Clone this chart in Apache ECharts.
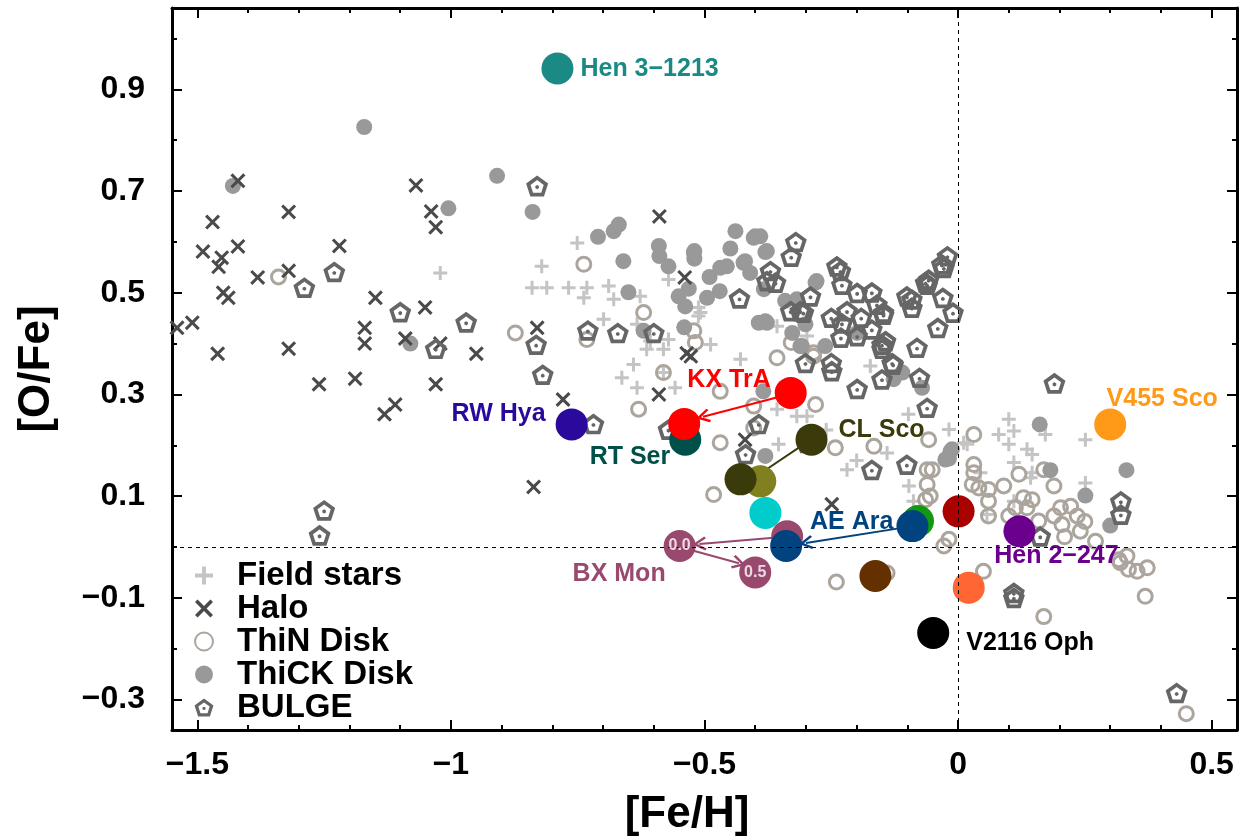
<!DOCTYPE html>
<html>
<head>
<meta charset="utf-8">
<script src="https://cdn.jsdelivr.net/npm/echarts@6/dist/echarts.min.js"></script>
<style>
html,body{margin:0;padding:0;background:#fff;}
#chart{width:1251px;height:837px;}
</style>
</head>
<body>
<div id="chart"></div>
<script>
// ---------------- DATA ----------------
const xMajorTicks = [-1.5, -1, -0.5, 0, 0.5];
const yMajorTicks = [-0.3, -0.1, 0.1, 0.3, 0.5, 0.7, 0.9];
const xMinorTicks = [-1.5,-1.4,-1.3,-1.2,-1.1,-1.0,-0.9,-0.8,-0.7,-0.6,-0.5,-0.4,-0.3,-0.2,-0.1,0,0.1,0.2,0.3,0.4,0.5];
const yMinorTicks = [-0.3,-0.2,-0.1,0,0.1,0.2,0.3,0.4,0.5,0.6,0.7,0.8,0.9,1.0];

const fieldStars = [
[-1.021,0.539],[-0.821,0.552],[-0.840,0.510],[-0.811,0.510],[-0.768,0.510],[-0.732,0.510],[-0.689,0.513],
[-0.738,0.490],[-0.679,0.487],[-0.699,0.448],[-0.633,0.438],[-0.607,0.405],[-0.571,0.408],[-0.614,0.389],
[-0.581,0.389],[-0.640,0.359],[-0.663,0.333],[-0.633,0.313],[-0.581,0.343],[-0.558,0.313],[-0.512,0.471],
[-0.512,0.454],[-0.488,0.398],[-0.429,0.369],[-0.357,0.434],[-0.357,0.271],[-0.318,0.257],[-0.298,0.257],
[-0.354,0.202],[-0.219,0.152],[-0.173,0.356],[-0.298,0.415],[-0.751,0.598],[-0.627,0.493],[-0.571,0.526],
[-0.508,0.461],[-0.098,0.261],[-0.018,0.231],[-0.140,0.185],[0.100,0.251],[0.080,0.221],[0.110,0.228],
[0.100,0.202],[0.136,0.192],[0.146,0.182],[0.172,0.221],[0.251,0.211],[0.110,0.166],[0.251,0.126],
[-0.097,0.120],[-0.088,0.090],[0.044,0.146],[0.146,0.146],[0.011,0.205],[0.018,0.202],[0.143,0.136],
[0.057,0.064],[0.110,0.090],[-0.26,0.23],[-0.20,0.17]
];

const haloStars = [
[-1.420,0.720],[-1.470,0.639],[-1.320,0.659],[-1.069,0.711],[-1.039,0.660],[-1.030,0.629],[-1.489,0.581],
[-1.420,0.591],[-1.220,0.592],[-1.452,0.569],[-1.458,0.551],[-1.320,0.543],[-1.381,0.530],[-1.449,0.500],
[-1.439,0.490],[-1.149,0.490],[-1.051,0.471],[-1.540,0.431],[-1.510,0.441],[-1.170,0.431],[-1.170,0.400],
[-1.090,0.410],[-1.021,0.400],[-1.460,0.380],[-1.320,0.390],[-0.950,0.380],[-1.260,0.320],[-1.189,0.331],
[-1.030,0.320],[-1.110,0.280],[-1.131,0.261],[-0.837,0.118],[-0.830,0.431],[-0.779,0.290],[-0.589,0.650],
[-0.539,0.530],[-0.590,0.300],[-0.535,0.381],[-0.527,0.375],[-0.420,0.211],[-0.249,0.084]
];

const thinDisk = [
[-1.340,0.531],[-0.873,0.421],[-0.738,0.556],[-0.620,0.461],[-0.732,0.408],[-0.630,0.271],[-0.521,0.425],
[-0.518,0.402],[-0.581,0.343],[-0.469,0.205],[-0.482,0.103],[-0.357,0.372],[-0.285,0.375],[-0.281,0.280],
[-0.403,0.277],[-0.403,0.234],[-0.469,0.306],[-0.242,0.195],[-0.166,0.198],[-0.329,0.402],[-0.285,0.382],
[0.031,0.221],[-0.058,0.211],[-0.061,0.152],[-0.051,0.152],[-0.061,0.123],[-0.055,0.100],[-0.064,0.093],
[0.031,0.162],[0.031,0.146],[0.028,0.123],[0.041,0.116],[0.060,0.113],[0.060,0.090],[0.060,0.061],
[0.090,0.120],[0.120,0.143],[0.129,0.097],[0.146,0.093],[0.113,0.077],[0.136,0.077],[0.100,0.061],
[0.169,0.152],[0.189,0.120],[0.159,0.051],[0.202,0.077],[0.222,0.080],[0.189,0.061],[0.205,0.044],
[0.235,0.061],[0.241,0.031],[0.271,0.011],[0.317,-0.025],[0.336,-0.044],[0.353,-0.048],[0.373,-0.041],
[0.369,-0.097],[0.333,-0.018],[0.050,-0.048],[-0.028,0.002],[-0.018,0.015],[0.169,-0.137],[0.450,-0.328],
[0.320,-0.031],[-0.140,-0.051],[-0.240,-0.069],[0.25,0.05],[0.21,0.02]
];

const thickDisk = [
[-1.171,0.826],[-1.430,0.710],[-1.005,0.666],[-0.909,0.730],[-1.080,0.400],[-0.839,0.659],[-0.710,0.610],
[-0.679,0.621],[-0.669,0.634],[-0.660,0.562],[-0.590,0.592],[-0.521,0.579],[-0.439,0.621],[-0.400,0.611],
[-0.449,0.587],[-0.420,0.562],[-0.380,0.580],[-0.589,0.572],[-0.571,0.552],[-0.520,0.582],[-0.520,0.567],
[-0.490,0.531],[-0.470,0.503],[-0.495,0.490],[-0.531,0.508],[-0.551,0.493],[-0.538,0.473],[-0.403,0.608],
[-0.456,0.552],[-0.423,0.559],[-0.410,0.539],[-0.650,0.501],[-0.620,0.425],[-0.540,0.432],[-0.393,0.441],
[-0.380,0.444],[-0.281,0.520],[-0.341,0.484],[-0.327,0.421],[-0.308,0.395],[-0.262,0.395],[-0.469,0.549],
[-0.384,0.306],[-0.380,0.179],[-0.390,0.611],[-0.377,0.582],[-0.383,0.507],[-0.279,0.523],[-0.318,0.487],
[-0.377,0.441],[-0.311,0.395],[-0.301,0.438],[-0.199,0.421],[-0.127,0.330],[-0.110,0.343],[-0.071,0.313],
[0.161,0.241],[0.332,0.151],[-0.012,0.192],[-0.018,0.174],[0.182,0.151],[0.251,0.101],[0.300,0.042],
[-0.015,0.188],[-0.025,0.172]
];

const bulgeStars = [
[-0.830,0.710],[-0.320,0.600],[-0.329,0.571],[-1.230,0.541],[-1.289,0.510],[-1.100,0.462],[-0.970,0.442],
[-1.030,0.390],[-1.250,0.072],[-1.259,0.023],[-0.832,0.398],[-0.819,0.339],[-0.730,0.426],[-0.671,0.421],
[-0.600,0.421],[-0.431,0.489],[-0.719,0.242],[-0.571,0.231],[-0.393,0.242],[-0.419,0.183],[-0.298,0.205],
[-0.291,0.493],[-0.249,0.346],[-0.199,0.311],[-0.170,0.152],[-0.370,0.543],[-0.360,0.520],[-0.377,0.523],
[-0.239,0.552],[-0.232,0.543],[-0.229,0.516],[-0.199,0.500],[-0.170,0.501],[-0.160,0.477],[-0.147,0.457],
[-0.250,0.451],[-0.229,0.440],[-0.219,0.464],[-0.191,0.451],[-0.170,0.428],[-0.231,0.412],[-0.199,0.415],
[-0.150,0.398],[-0.150,0.390],[-0.130,0.362],[-0.081,0.392],[-0.040,0.431],[-0.101,0.493],[-0.091,0.487],
[-0.091,0.471],[-0.064,0.520],[-0.058,0.526],[-0.030,0.490],[-0.010,0.461],[-0.028,0.549],[-0.021,0.572],
[-0.330,0.464],[-0.311,0.464],[-0.305,0.461],[-0.301,0.362],[-0.250,0.362],[-0.061,0.516],[-0.128,0.359],
[-0.150,0.330],[-0.076,0.333],[-0.061,0.274],[-0.101,0.162],[-0.147,0.461],[-0.143,0.405],[0.190,0.322],
[0.321,0.090],[0.321,0.064],[0.162,0.021],[0.110,-0.090],[0.110,-0.100],[0.431,-0.287],[-0.032,0.556]
];

// programme stars (drawn in this order)
const starLabel = ['Hen 3−1213','RW Hya','RT Ser','','KX TrA','','','CL Sco','','','','','AE Ara','BX Mon','','','Hen 2−247','','','V2116 Oph','V455 Sco'];
const starFeH   = [-0.790,-0.762,-0.538,-0.540,-0.330,-0.390,-0.429,-0.289,-0.380,-0.337,-0.339,-0.079,-0.090,-0.549,-0.400,0.001,0.121,0.021,-0.163,-0.049,0.300];
const starOFe   = [0.941,0.241,0.211,0.242,0.303,0.129,0.133,0.211,0.067,0.021,0.002,0.051,0.041,0.002,-0.050,0.070,0.031,-0.080,-0.057,-0.169,0.241];
const phaseText = ['0.0','0.5'];
const phaseIndex = [13, 14];

// arrows: from / to in [Fe/H], [O/Fe]
const arrowFrom = [[-0.335,0.300],[-0.295,0.208],[-0.095,0.040],[-0.340,0.020],[-0.545,-0.001]];
const arrowTo   = [[-0.503,0.256],[-0.392,0.143],[-0.300,0.008],[-0.510,0.006],[-0.432,-0.032]];

// ---------------- STYLES ----------------
const starColor = ['#1b8a85','#2a0a9c','#00504a','#ff0000','#ff0000','#808020','#3a3a0a','#3a3a0a','#00cccc','#99496e','#00437f','#119911','#00437f','#99496e','#99496e','#aa0000','#6b008f','#ff6633','#653000','#000000','#ff9918'];
const starLabelPos = {
  0:{position:'right',distance:7,offset:[0,1]},
  1:{position:'left',distance:10,offset:[0,-10]},
  2:{position:'left',distance:-1,offset:[0,17]},
  4:{position:'left',distance:4,offset:[0,-13]},
  7:{position:'right',distance:11,offset:[0,-10]},
  12:{position:'left',distance:3,offset:[0,-4]},
  13:{position:'left',distance:-2,offset:[0,28]},
  16:{position:'bottom',distance:-4,offset:[37,0]},
  19:{position:'right',distance:17,offset:[0,10]},
  20:{position:'top',distance:-3,offset:[52,0]}
};
const arrowColor = ['#ff0000','#3a3a0a','#00437f','#99496e','#99496e'];

const FONT = "'Liberation Sans', Arial, Helvetica, sans-serif";
const fmt = v => String(v).replace('-', '\u2212');

const plusPath = 'path://M-1.5,-7H1.5V-1.5H7V1.5H1.5V7H-1.5V1.5H-7V-1.5H-1.5Z';
const crossPath = 'path://M0,-2L5,-7L7,-5L2,0L7,5L5,7L0,2L-5,7L-7,5L-2,0L-7,-5L-5,-7Z';
const pentPath = 'path://M0,-10L9.51,-3.09L5.88,8.09L-5.88,8.09L-9.51,-3.09ZM0,-6.0L-5.71,-1.85L-3.53,4.85L3.53,4.85L5.71,-1.85ZM0,-1.8L1.56,-0.9L1.56,0.9L0,1.8L-1.56,0.9L-1.56,-0.9Z';
const arrowHead = 'path://M0,0L6,9L4.4,10.2L0,3.6L-4.4,10.2L-6,9Z';

function axisSet(dim, pos, ticks, len, showLine, labels) {
  const isX = dim === 'x';
  const a = {
    type:'value', gridIndex:0, position:pos,
    min: isX ? -1.55 : -0.36, max: isX ? 0.55 : 1.06,
    axisLine:{show:showLine, onZero:false, lineStyle:{color:'#000', width:3}},
    axisTick:{show:true, inside:true, length:len, customValues:ticks, lineStyle:{color:'#000', width:2}},
    axisLabel:{show:!!labels, customValues:ticks, formatter:fmt, color:'#000', fontFamily:FONT, fontWeight:'bold', fontSize:32, margin: isX ? 19 : 27},
    splitLine:{show:false}, minorTick:{show:false}
  };
  if (labels) {
    a.name = isX ? '[Fe/H]' : '[O/Fe]';
    a.nameLocation = 'middle';
    a.nameGap = isX ? 63 : 113;
    a.nameTextStyle = {color:'#000', fontFamily:FONT, fontWeight:'bold', fontSize:44, padding: isX ? [0,35,0,0] : 0};
  }
  return a;
}

const special = starFeH.map((x,i) => {
  const item = {value:[x, starOFe[i]], itemStyle:{color:starColor[i], opacity:1}};
  if (starLabel[i]) {
    const p = starLabelPos[i];
    item.label = {show:true, formatter:starLabel[i], position:p.position, distance:p.distance, offset:p.offset,
      color:starColor[i], fontFamily:FONT, fontWeight:'bold', fontSize:25};
  }
  return item;
});

const chart = echarts.init(document.getElementById('chart'), null, {renderer:'canvas'});
chart.setOption({
  animation:false,
  backgroundColor:'#fff',
  grid:{left:172, right:14, top:8, bottom:107, containLabel:false, outerBoundsMode:'none'},
  xAxis:[
    axisSet('x','bottom',xMajorTicks,10,true,true),
    axisSet('x','bottom',xMinorTicks,5,false,false),
    axisSet('x','top',xMajorTicks,10,true,false),
    axisSet('x','top',xMinorTicks,5,false,false)
  ],
  yAxis:[
    axisSet('y','left',yMajorTicks,10,true,true),
    axisSet('y','left',yMinorTicks,5,false,false),
    axisSet('y','right',yMajorTicks,10,true,false),
    axisSet('y','right',yMinorTicks,5,false,false)
  ],
  legend:{
    orient:'vertical', left:194, top:559, padding:0, itemGap:0,
    itemWidth:56, itemHeight:18, selectedMode:false,
    data:['Field stars','Halo','ThiN Disk','ThiCK Disk','BULGE'],
    textStyle:{color:'#000', fontFamily:FONT, fontWeight:'bold', fontSize:33, lineHeight:32}
  },
  series:[
    {name:'Field stars', type:'scatter', z:2, data:fieldStars, symbol:plusPath, symbolSize:14,
     itemStyle:{color:'#c4c4c4', opacity:1},
     markLine:{silent:true, symbol:'none', label:{show:false},
       lineStyle:{color:'#000', width:1, type:[4,4], opacity:1},
       data:[{xAxis:0},{yAxis:0}]}},
    {name:'ThiN Disk', type:'scatter', z:2, data:thinDisk, symbol:'circle', symbolSize:14,
     itemStyle:{color:'rgba(0,0,0,0)', borderColor:'#aca59d', borderWidth:3, opacity:1}},
    {name:'ThiCK Disk', type:'scatter', z:2, data:thickDisk, symbol:'circle', symbolSize:16,
     itemStyle:{color:'#999999', opacity:1}},
    {name:'Halo', type:'scatter', z:2, data:haloStars, symbol:crossPath, symbolSize:15,
     itemStyle:{color:'#4a4a4a', opacity:1}},
    {name:'BULGE', type:'scatter', z:2, data:bulgeStars, symbol:pentPath, symbolSize:22, symbolKeepAspect:true,
     itemStyle:{color:'#666666', opacity:1}},
    {name:'arrows', type:'lines', coordinateSystem:'cartesian2d', z:3,
     symbol:['none', arrowHead], symbolSize:14,
     lineStyle:{width:2, opacity:1, curveness:0},
     data:arrowFrom.map((f,i) => ({coords:[f, arrowTo[i]], lineStyle:{color:arrowColor[i]}, itemStyle:{color:arrowColor[i]}}))},
    {name:'stars', type:'scatter', z:4, data:special, symbol:'circle', symbolSize:32, itemStyle:{opacity:1}},
    {name:'phase', type:'scatter', z:5, symbolSize:1, itemStyle:{color:'rgba(0,0,0,0)'},
     data:phaseIndex.map((k,i) => ({value:[starFeH[k], starOFe[k]],
       label:{show:true, position:'inside', formatter:phaseText[i], color:'#fff', fontFamily:FONT, fontWeight:'bold', fontSize:16}}))}
  ]
});
</script>
</body>
</html>
